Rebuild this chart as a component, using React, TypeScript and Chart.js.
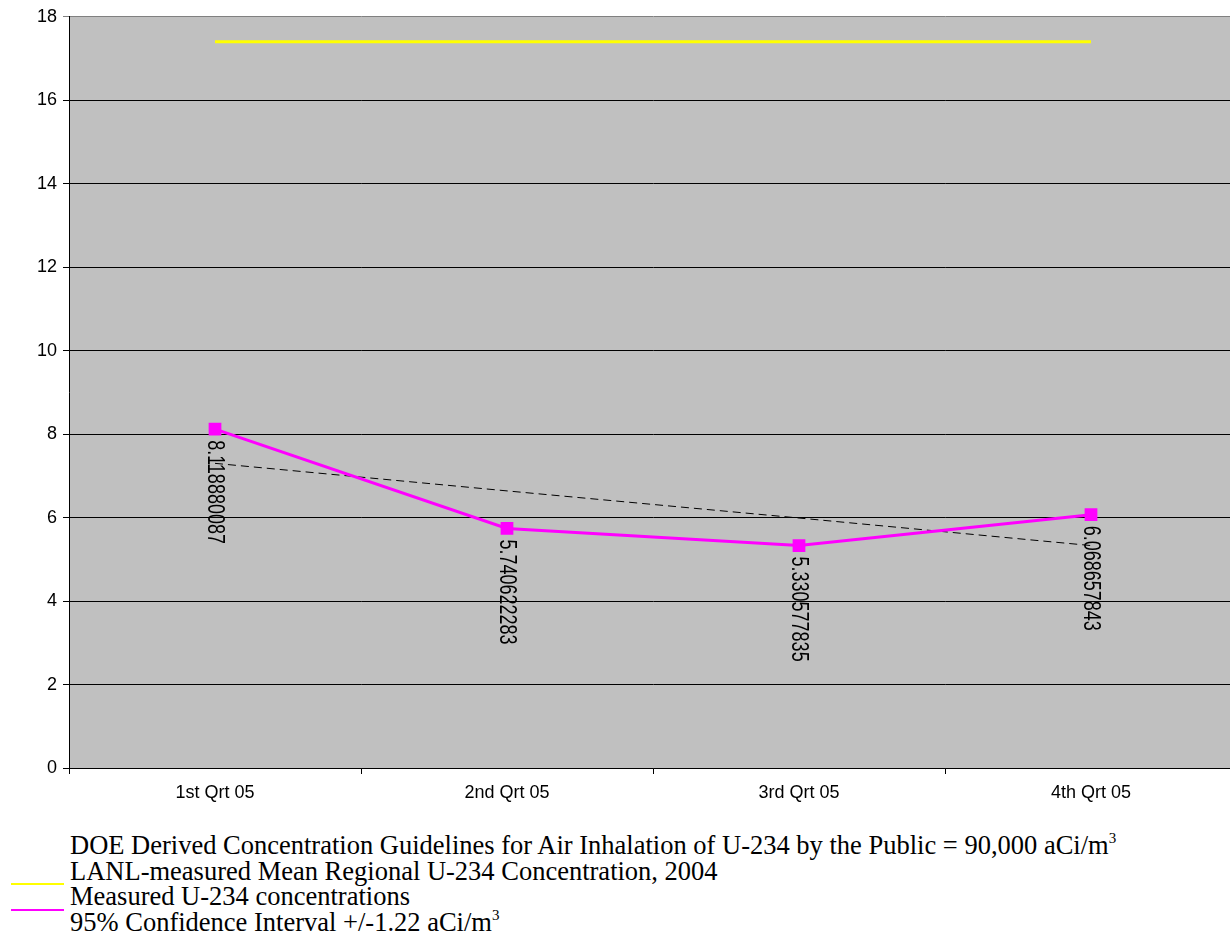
import React, { useEffect, useRef } from "react";
import { Chart, registerables } from "chart.js";

Chart.register(...registerables);

const categories = ["1st Qrt 05", "2nd Qrt 05", "3rd Qrt 05", "4th Qrt 05"];
const measured = [8.118880087, 5.740622283, 5.330577835, 6.068657843];
const measuredLabels = ["8.118880087", "5.740622283", "5.330577835", "6.068657843"];
const regionalMean = [17.4, 17.4, 17.4, 17.4];
const trendLine = [7.3, 6.64, 5.99, 5.33];
const yMin = 0;
const yMax = 18;
const yStep = 2;

const CANVAS_W = 1260;
const CANVAS_H = 830;
const AREA_LEFT = 69;
const AREA_TOP = 16;
const AREA_RIGHT = 1237;
const AREA_BOTTOM = 768;

const SANS = '"Liberation Sans", Arial, sans-serif';
const SERIF = '"Liberation Serif", "Times New Roman", serif';

const bgPlugin = {
  id: "plotBg",
  beforeDraw(chart: any) {
    const { ctx, chartArea } = chart;
    ctx.save();
    ctx.fillStyle = "#C0C0C0";
    ctx.fillRect(chartArea.left, chartArea.top, chartArea.right - chartArea.left, chartArea.bottom - chartArea.top);
    ctx.restore();
  },
};

const labelPlugin = {
  id: "rotLabels",
  afterDatasetsDraw(chart: any) {
    const { ctx } = chart;
    const meta = chart.getDatasetMeta(1);
    ctx.save();
    ctx.fillStyle = "#000";
    ctx.font = `18px ${SANS}`;
    ctx.textAlign = "left";
    ctx.textBaseline = "middle";
    meta.data.forEach((pt: any, i: number) => {
      ctx.save();
      ctx.translate(pt.x - 1, pt.y + 11);
      ctx.rotate(Math.PI / 2);
      ctx.scale(1, 1.28);
      ctx.fillText(measuredLabels[i], 0, 0);
      ctx.restore();
    });
    ctx.restore();
  },
};

export default function App() {
  const ref = useRef<HTMLCanvasElement>(null);

  useEffect(() => {
    if (!ref.current) return;
    const chart = new Chart(ref.current, {
      type: "line",
      data: {
        labels: categories,
        datasets: [
          {
            label: "LANL-measured Mean Regional U-234 Concentration, 2004",
            data: regionalMean,
            borderColor: "#FFFF00",
            borderWidth: 3,
            pointRadius: 0,
            fill: false,
            order: 2,
          },
          {
            label: "Measured U-234 concentrations",
            data: measured,
            borderColor: "#FF00FF",
            backgroundColor: "#FF00FF",
            borderWidth: 3,
            pointStyle: "rect",
            pointRadius: 9,
            pointBorderWidth: 0,
            fill: false,
            order: 0,
          },
          {
            label: "Trend",
            data: trendLine,
            borderColor: "#000000",
            borderWidth: 1,
            borderDash: [8, 5],
            pointRadius: 0,
            fill: false,
            order: 1,
          },
        ],
      },
      options: {
        responsive: false,
        animation: false,
        layout: { padding: { left: 0, top: AREA_TOP, right: CANVAS_W - AREA_RIGHT, bottom: 0 } },
        plugins: { legend: { display: false }, tooltip: { enabled: false } },
        scales: {
          x: {
            type: "category",
            offset: true,
            afterFit(scale: any) {
              scale.height = CANVAS_H - AREA_BOTTOM;
            },
            grid: {
              offset: true,
              drawOnChartArea: false,
              drawTicks: true,
              tickLength: 6,
              color: "#000",
              lineWidth: 1,
            },
            border: { display: true, color: "#000", width: 1 },
            ticks: {
              color: "#000",
              font: { family: SANS, size: 18 },
              maxRotation: 0,
              autoSkip: false,
              padding: 8,
            },
          },
          y: {
            min: yMin,
            max: yMax,
            afterFit(scale: any) {
              scale.width = AREA_LEFT;
            },
            grid: {
              color: (c: any) => (c.tick && c.tick.value === yMax ? "#808080" : "#000"),
              lineWidth: 1,
              drawTicks: true,
              tickLength: 6,
            },
            border: { display: true, color: "#000", width: 1 },
            ticks: {
              stepSize: yStep,
              color: "#000",
              font: { family: SANS, size: 18 },
              padding: 6,
            },
          },
        },
      },
      plugins: [bgPlugin, labelPlugin],
    });
    return () => chart.destroy();
  }, []);

  const lineStyle = { lineHeight: "25.5px", height: "25.5px", whiteSpace: "nowrap" as const };
  const sup = { fontSize: "15px", lineHeight: 0, verticalAlign: "11px" };

  return (
    <div style={{ position: "fixed", left: 0, top: 0, width: 1230, height: 951, overflow: "hidden", background: "#fff" }}>
      <canvas ref={ref} width={CANVAS_W} height={CANVAS_H} style={{ position: "absolute", left: 0, top: 0, width: CANVAS_W, height: CANVAS_H }} />
      <div style={{ position: "absolute", left: 11, top: 883, width: 53, height: 2, background: "#FFFF00" }} />
      <div style={{ position: "absolute", left: 11, top: 909, width: 53, height: 2, background: "#FF00FF" }} />
      <div style={{ position: "absolute", left: 70, top: 833, fontFamily: SERIF, fontSize: 26.5, color: "#000" }}>
        <div style={lineStyle}>
          DOE Derived Concentration Guidelines for Air Inhalation of U-234 by the Public = 90,000 aCi/m<span style={sup}>3</span>
        </div>
        <div style={lineStyle}>LANL-measured Mean Regional U-234 Concentration, 2004</div>
        <div style={lineStyle}>Measured U-234 concentrations</div>
        <div style={lineStyle}>
          95% Confidence Interval +/-1.22 aCi/m<span style={sup}>3</span>
        </div>
      </div>
    </div>
  );
}
